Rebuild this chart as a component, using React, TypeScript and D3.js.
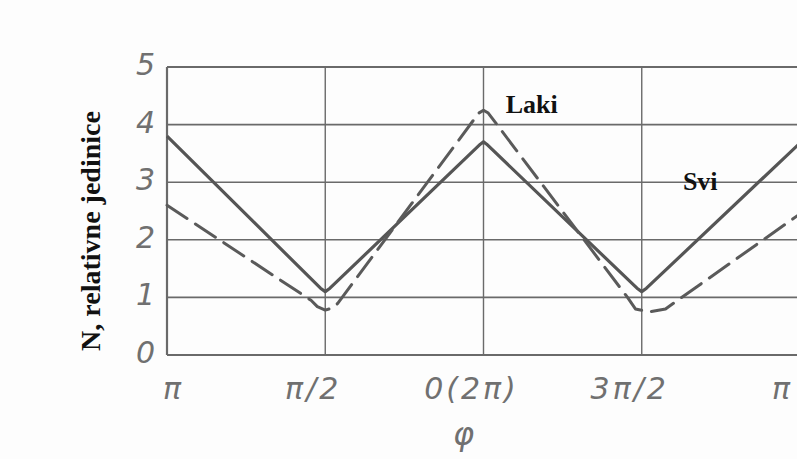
import { useEffect, useRef } from "react";
import * as d3 from "d3";

// x is in steps of pi/2 from the left edge (pi, pi/2, 0(2pi), 3pi/2, pi)
const xTickLabels = ["π", "π/2", "0(2π)", "3π/2", "π"];
const yTicks = [0, 1, 2, 3, 4, 5];

const solidX = [0, 0.97, 1.0, 1.03, 1.98, 2.0, 2.02, 2.97, 3.0, 3.03, 4.0];
const solidY = [3.8, 1.16, 1.1, 1.16, 3.66, 3.7, 3.66, 1.16, 1.1, 1.16, 3.68];

const dashedX = [0, 0.91, 0.95, 1.0, 1.05, 1.08, 1.97, 2.0, 2.03, 2.91, 2.96, 3.05, 3.15, 4.0];
const dashedY = [2.6, 0.95, 0.84, 0.78, 0.82, 0.9, 4.2, 4.25, 4.2, 1.0, 0.8, 0.75, 0.8, 2.45];

const lineLabels = ["Laki", "Svi"];

function PhaseChart() {
  const ref = useRef<SVGSVGElement>(null);

  useEffect(() => {
    const svg = d3.select(ref.current);
    svg.selectAll("*").remove();

    const width = 797;
    const height = 459;
    const margin = { top: 67, right: -3, bottom: 104, left: 167 };

    const x = d3.scaleLinear().domain([0, 4]).range([margin.left, width - margin.right]);
    const y = d3.scaleLinear().domain([0, 5]).range([height - margin.bottom, margin.top]);

    svg.append("rect").attr("width", width).attr("height", height).attr("fill", "#fdfdfd");

    const grid = svg.append("g").attr("stroke", "#6a6a6a").attr("stroke-width", 1.6);
    grid
      .selectAll("line.h")
      .data(yTicks)
      .join("line")
      .attr("x1", x(0))
      .attr("x2", x(4))
      .attr("y1", (d) => y(d))
      .attr("y2", (d) => y(d))
      .attr("stroke-width", (d) => (d === 0 || d === 5 ? 2.2 : 1.6));
    grid
      .selectAll("line.v")
      .data(d3.range(xTickLabels.length))
      .join("line")
      .attr("x1", (d) => x(d))
      .attr("x2", (d) => x(d))
      .attr("y1", y(0))
      .attr("y2", y(5))
      .attr("stroke-width", (d) => (d === 0 ? 2.2 : 1.4));

    const line = d3
      .line<[number, number]>()
      .x((d) => x(d[0]))
      .y((d) => y(d[1]));

    svg
      .append("path")
      .datum(solidX.map((v, i) => [v, solidY[i]] as [number, number]))
      .attr("fill", "none")
      .attr("stroke", "#555")
      .attr("stroke-width", 3.2)
      .attr("stroke-linejoin", "round")
      .attr("d", line);

    svg
      .append("path")
      .datum(dashedX.map((v, i) => [v, dashedY[i]] as [number, number]))
      .attr("fill", "none")
      .attr("stroke", "#5a5a5a")
      .attr("stroke-width", 3)
      .attr("stroke-dasharray", "24,10")
      .attr("stroke-linejoin", "round")
      .attr("stroke-linecap", "round")
      .attr("d", line);

    const tickFont = "'DejaVu Sans', sans-serif";

    svg
      .append("g")
      .selectAll("text")
      .data(yTicks)
      .join("text")
      .attr("x", x(0) - 12)
      .attr("y", (d) => y(d) + 8)
      .attr("text-anchor", "end")
      .attr("font-family", tickFont)
      .attr("font-style", "italic")
      .attr("font-size", 30)
      .attr("fill", "#707070")
      .text((d) => d);

    const last = xTickLabels.length - 1;
    svg
      .append("g")
      .selectAll("text")
      .data(xTickLabels)
      .join("text")
      .attr("x", (d, i) => (i === 0 ? x(i) - 4 : i === last ? x(i) - 28 : x(i) - 12))
      .attr("y", height - margin.bottom + 44)
      .attr("text-anchor", (d, i) => (i === 0 || i === last ? "start" : "middle"))
      .attr("font-family", tickFont)
      .attr("font-style", "italic")
      .attr("font-size", 30)
      .attr("letter-spacing", (d, i) => (i === 0 || i === last ? 0 : 3))
      .attr("fill", "#707070")
      .text((d) => d);

    svg
      .append("text")
      .attr("x", x(2) - 20)
      .attr("y", height - 14)
      .attr("text-anchor", "middle")
      .attr("font-family", tickFont)
      .attr("font-style", "italic")
      .attr("font-size", 32)
      .attr("fill", "#707070")
      .text("φ");

    svg
      .append("text")
      .attr("transform", `translate(100,${(y(0) + y(5)) / 2 + 20}) rotate(-90)`)
      .attr("text-anchor", "middle")
      .attr("font-family", "'Liberation Serif', serif")
      .attr("font-weight", "bold")
      .attr("font-size", 28)
      .attr("fill", "#111")
      .text("N, relativne jedinice");

    svg
      .append("text")
      .attr("x", x(2.14))
      .attr("y", y(4.2))
      .attr("font-family", "'Liberation Serif', serif")
      .attr("font-weight", "bold")
      .attr("font-size", 26)
      .attr("fill", "#111")
      .text(lineLabels[0]);

    svg
      .append("text")
      .attr("x", x(3.26))
      .attr("y", y(2.86))
      .attr("font-family", "'Liberation Serif', serif")
      .attr("font-weight", "bold")
      .attr("font-size", 26)
      .attr("fill", "#111")
      .text(lineLabels[1]);
  }, []);

  return (
    <svg
      ref={ref}
      width={797}
      height={459}
      style={{ position: "absolute", left: 0, top: 0, display: "block" }}
    />
  );
}

export default function App() {
  return <PhaseChart />;
}
